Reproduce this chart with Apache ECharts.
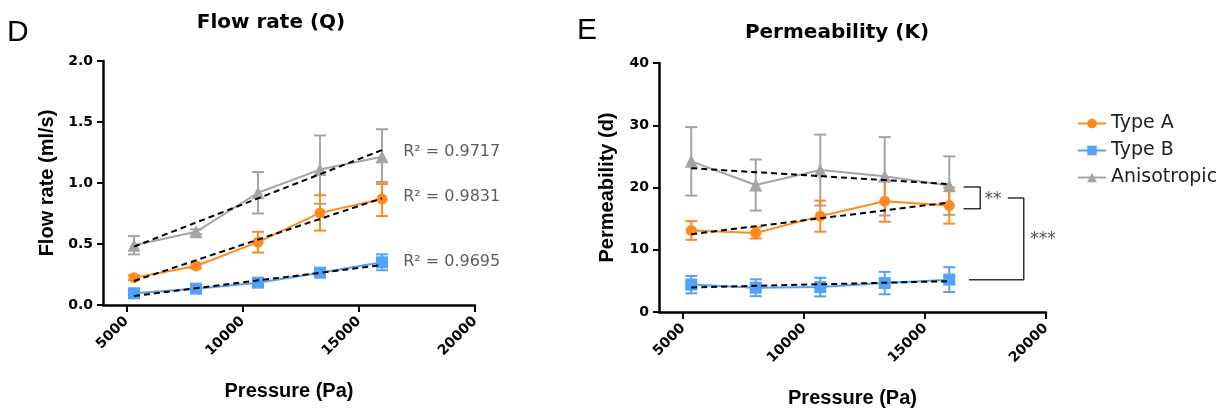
<!DOCTYPE html>
<html>
<head>
<meta charset="utf-8">
<script src="https://cdn.jsdelivr.net/npm/echarts@6/dist/echarts.min.js"></script>
<style>
  html, body { margin: 0; padding: 0; background: #fff; }
  #main { width: 1226px; height: 414px; }
</style>
</head>
<body>
<div id="main"></div>
<script>
// pressure points (Pa)
var pressure = [5333, 8000, 10667, 13333, 16000];
var trendX = [5333, 16000];
var xTicks = [5000, 10000, 15000, 20000];

// Flow rate Q (ml/s)
var flowA = [0.224, 0.32, 0.515, 0.755, 0.869];
var flowAErr = [0.02, 0.02, 0.085, 0.145, 0.14];
var flowB = [0.096, 0.134, 0.183, 0.265, 0.35];
var flowBErr = [0.015, 0.015, 0.02, 0.025, 0.065];
var flowAniso = [0.49, 0.60, 0.92, 1.11, 1.216];
var flowAnisoErr = [0.075, 0.02, 0.17, 0.28, 0.225];
var flowTrendA = [0.197, 0.875];
var flowTrendB = [0.074, 0.328];
var flowTrendAniso = [0.478, 1.27];
var r2Labels = ['R² = 0.9717', 'R² = 0.9831', 'R² = 0.9695'];
var r2Pos = [[16909, 1.257], [16909, 0.883], [16909, 0.355]];

// Permeability K (d)
var permA = [13.1, 12.7, 15.4, 17.8, 17.1];
var permAErr = [1.5, 0.9, 2.5, 3.3, 2.9];
var permB = [4.4, 3.9, 4.0, 4.65, 5.2];
var permBErr = [1.4, 1.35, 1.5, 1.8, 2.0];
var permAniso = [24.2, 20.4, 22.8, 21.8, 20.3];
var permAnisoErr = [5.5, 4.1, 5.7, 6.3, 4.7];
var permTrendA = [12.5, 17.6];
var permTrendB = [3.95, 4.95];
var permTrendAniso = [23.1, 20.55];

// significance brackets
var bracket2 = [[16595, 20.1], [17283, 20.1], [17283, 16.6], [16595, 16.6]];
var bracket3 = [[18421, 18.3], [19081, 18.3], [19081, 5.2], [16814, 5.2]];
var starLabels = [{ name: '**', value: [17811, 18.1] }, { name: '***', value: [19872, 11.6] }];

var cA = '#FF8A1F';
var cB = '#52A2F5';
var cG = '#A5A5A5';

function pairs(xs, ys) {
    return xs.map(function (x, i) { return [x, ys[i]]; });
}
function errData(ys, es) {
    return pressure.map(function (x, i) { return [x, ys[i], es[i]]; });
}
function errBar(color) {
    return function (params, api) {
        var x = api.value(0), y = api.value(1), e = api.value(2);
        var top = api.coord([x, y + e]);
        var bot = api.coord([x, y - e]);
        var w = 6;
        var st = { stroke: color, lineWidth: 2 };
        return {
            type: 'group',
            children: [
                { type: 'line', shape: { x1: top[0], y1: top[1], x2: bot[0], y2: bot[1] }, style: st },
                { type: 'line', shape: { x1: top[0] - w, y1: top[1], x2: top[0] + w, y2: top[1] }, style: st },
                { type: 'line', shape: { x1: bot[0] - w, y1: bot[1], x2: bot[0] + w, y2: bot[1] }, style: st }
            ]
        };
    };
}

var tickFont = { fontFamily: 'DejaVu Sans', fontWeight: 'bold', fontSize: 14, color: '#000' };

function xAxisCfg(idx) {
    return {
        type: 'value', gridIndex: idx, min: 4000, max: 20000,
        name: 'Pressure (Pa)', nameLocation: 'middle', nameGap: 76,
        nameTextStyle: { fontFamily: 'Liberation Sans', fontWeight: 'bold', fontSize: 20, color: '#000' },
        axisLine: { onZero: false, lineStyle: { color: '#000', width: 2.5 } },
        axisTick: { show: true, length: 7, lineStyle: { color: '#000', width: 2 }, customValues: xTicks },
        axisLabel: Object.assign({
            rotate: 45, margin: 14, customValues: xTicks,
            formatter: function (v) { return String(v); }
        }, tickFont),
        splitLine: { show: false }
    };
}

function mainLine(name, color, symbol, size, xi, data) {
    return {
        name: name, type: 'line', xAxisIndex: xi, yAxisIndex: xi,
        data: data, symbol: symbol, symbolSize: size, z: 3,
        itemStyle: { color: color }, lineStyle: { color: color, width: 2 },
        emphasis: { disabled: true }, animation: false
    };
}
function errSeries(color, xi, data) {
    return {
        type: 'custom', xAxisIndex: xi, yAxisIndex: xi, z: 2,
        renderItem: errBar(color), encode: { x: 0, y: 1 }, data: data, animation: false
    };
}
function trendSeries(xi, ys) {
    return {
        type: 'line', xAxisIndex: xi, yAxisIndex: xi, z: 4,
        data: pairs(trendX, ys), symbol: 'none',
        lineStyle: { color: '#000', width: 2, type: [6, 4] }, animation: false
    };
}

var chart = echarts.init(document.getElementById('main'));
var option = {
    animation: false,
    graphic: [
        { type: 'text', x: 7, y: 33, style: { text: 'D', font: '30px "Liberation Sans"', fill: '#000', textVerticalAlign: 'middle' } },
        { type: 'text', x: 577, y: 31, style: { text: 'E', font: '30px "Liberation Sans"', fill: '#000', textVerticalAlign: 'middle' } },
        { type: 'text', x: 271, y: 23, style: { text: 'Flow rate (Q)', font: 'bold 20px "DejaVu Sans"', fill: '#000', textAlign: 'center', textVerticalAlign: 'middle' } },
        { type: 'text', x: 837, y: 33, style: { text: 'Permeability (K)', font: 'bold 20px "DejaVu Sans"', fill: '#000', textAlign: 'center', textVerticalAlign: 'middle' } }
    ],
    legend: {
        data: ['Type A', 'Type B', 'Anisotropic'],
        orient: 'vertical', left: 1072, top: 109,
        itemWidth: 28, itemHeight: 12, itemGap: 8,
        textStyle: { fontFamily: 'DejaVu Sans', fontSize: 19, color: '#222' }
    },
    grid: [
        { left: 103, top: 61, width: 372, height: 244 },
        { left: 659, top: 63, width: 387, height: 249 }
    ],
    xAxis: [xAxisCfg(0), xAxisCfg(1)],
    yAxis: [
        {
            type: 'value', gridIndex: 0, min: 0, max: 2, interval: 0.5,
            name: 'Flow rate (ml/s)', nameLocation: 'middle', nameGap: 46,
            nameTextStyle: { fontFamily: 'Liberation Sans', fontWeight: 'bold', fontSize: 20, color: '#000' },
            axisLine: { show: true, lineStyle: { color: '#000', width: 2.5 } },
            axisTick: { show: true, length: 6, lineStyle: { color: '#000', width: 2 } },
            axisLabel: Object.assign({ margin: 10, formatter: function (v) { return v.toFixed(1); } }, tickFont),
            splitLine: { show: false }
        },
        {
            type: 'value', gridIndex: 1, min: 0, max: 40, interval: 10,
            name: 'Permeability (d)', nameLocation: 'middle', nameGap: 42,
            nameTextStyle: { fontFamily: 'Liberation Sans', fontWeight: 'bold', fontSize: 20, color: '#000' },
            axisLine: { show: true, lineStyle: { color: '#000', width: 2.5 } },
            axisTick: { show: true, length: 6, lineStyle: { color: '#000', width: 2 } },
            axisLabel: Object.assign({ margin: 10 }, tickFont),
            splitLine: { show: false }
        }
    ],
    series: [
        // flow rate
        errSeries(cG, 0, errData(flowAniso, flowAnisoErr)),
        errSeries(cA, 0, errData(flowA, flowAErr)),
        errSeries(cB, 0, errData(flowB, flowBErr)),
        mainLine('Anisotropic', cG, 'triangle', 13, 0, pairs(pressure, flowAniso)),
        mainLine('Type A', cA, 'circle', 11, 0, pairs(pressure, flowA)),
        mainLine('Type B', cB, 'rect', 12, 0, pairs(pressure, flowB)),
        trendSeries(0, flowTrendAniso),
        trendSeries(0, flowTrendA),
        trendSeries(0, flowTrendB),
        {
            type: 'scatter', xAxisIndex: 0, yAxisIndex: 0, symbolSize: 0, z: 5,
            data: r2Pos.map(function (p, i) { return { name: r2Labels[i], value: p }; }),
            label: {
                show: true, position: 'right', distance: 0, formatter: '{b}',
                fontFamily: 'DejaVu Sans', fontSize: 16, color: '#333'
            },
            silent: true
        },
        // permeability
        errSeries(cG, 1, errData(permAniso, permAnisoErr)),
        errSeries(cA, 1, errData(permA, permAErr)),
        errSeries(cB, 1, errData(permB, permBErr)),
        mainLine('Anisotropic', cG, 'triangle', 13, 1, pairs(pressure, permAniso)),
        mainLine('Type A', cA, 'circle', 11, 1, pairs(pressure, permA)),
        mainLine('Type B', cB, 'rect', 12, 1, pairs(pressure, permB)),
        trendSeries(1, permTrendAniso),
        trendSeries(1, permTrendA),
        trendSeries(1, permTrendB),
        {
            type: 'line', xAxisIndex: 1, yAxisIndex: 1, data: bracket2, symbol: 'none',
            lineStyle: { color: '#333', width: 1.5 }, silent: true
        },
        {
            type: 'line', xAxisIndex: 1, yAxisIndex: 1, data: bracket3, symbol: 'none',
            lineStyle: { color: '#333', width: 1.5 }, silent: true
        },
        {
            type: 'scatter', xAxisIndex: 1, yAxisIndex: 1, symbolSize: 0, z: 5,
            data: starLabels,
            label: {
                show: true, position: 'inside', formatter: '{b}',
                fontFamily: 'DejaVu Sans', fontSize: 17, color: '#222'
            },
            silent: true
        }
    ]
};
chart.setOption(option);
</script>
</body>
</html>
